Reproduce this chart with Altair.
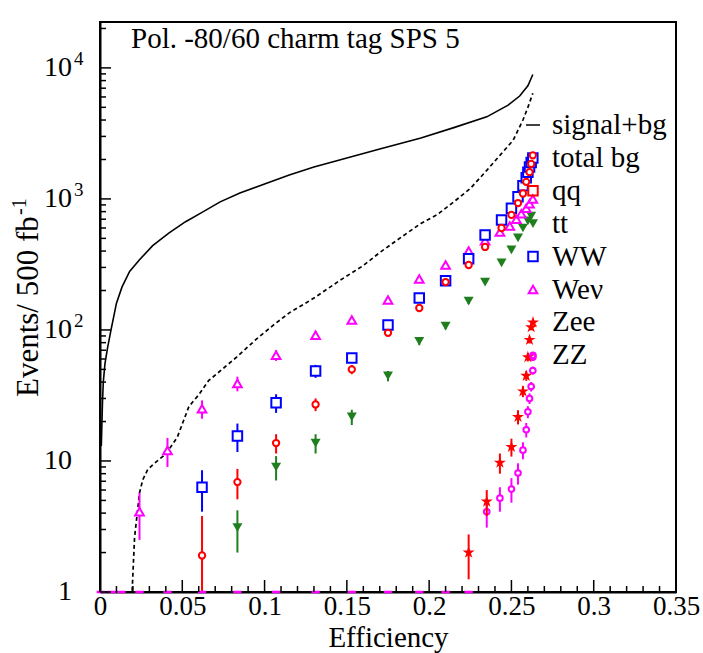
import altair as alt
import pandas as pd

FONT = "Liberation Serif"
RED, BLUE, GREEN, MAG = "#ff0000", "#0000ff", "#1f7f1f", "#ff00ff"

# ---------------- data ----------------
# signal + background curve
sb_x = [0.0008, 0.0012, 0.0015, 0.002, 0.003, 0.0045, 0.0067, 0.010, 0.0134, 0.018,
        0.024, 0.032, 0.042, 0.052, 0.062, 0.073, 0.085, 0.100, 0.115, 0.130,
        0.150, 0.170, 0.195, 0.215, 0.235, 0.248, 0.255, 0.260, 0.263]
sb_y = [13, 20, 28, 40, 55, 72, 100, 160, 213, 280,
        343, 440, 550, 670, 790, 950, 1110, 1300, 1520, 1750,
        2050, 2400, 2920, 3500, 4230, 5200, 6100, 7300, 8900]

# total background curve
tb_x = [0.0185, 0.0195, 0.021, 0.024, 0.026, 0.029, 0.033, 0.040, 0.047, 0.054,
        0.060, 0.066, 0.075, 0.083, 0.095, 0.105, 0.115, 0.130, 0.146, 0.160,
        0.170, 0.183, 0.195, 0.205, 0.215, 0.225, 0.235, 0.243, 0.251, 0.257,
        0.260, 0.263]
tb_y = [0.8, 1.0, 2.6, 5.7, 7.2, 8.6, 9.6, 11.3, 15.2, 26,
        32, 41, 51, 62, 85, 108, 135, 175, 240, 310,
        390, 510, 650, 760, 950, 1200, 1650, 2150, 2800, 4000,
        5000, 6400]

# W e nu
wev_x = [0.024, 0.041, 0.062, 0.0835, 0.107, 0.131, 0.153, 0.175, 0.194, 0.210,
         0.224, 0.234, 0.243, 0.249, 0.253, 0.256, 0.259, 0.261, 0.263]
wev_y = [4.1, 12, 25, 39, 64, 91, 119, 169, 245, 313,
         400, 480, 560, 620, 700, 770, 850, 920, 1000]
wev_e = [1.6, 3, 4, 5, 6, 7, 8, 10, 12, 14, 16, 17, 19, 20, 21, 22, 23, 24, 25]

# qq
qq_x = [0.062, 0.0835, 0.107, 0.131, 0.153, 0.175, 0.194, 0.210, 0.224, 0.234,
        0.244, 0.250, 0.254, 0.257, 0.259, 0.261, 0.262, 0.263]
qq_y = [1.9, 6.9, 13.7, 27, 50, 95, 147, 232, 313, 430,
        600, 755, 930, 1100, 1350, 1600, 1850, 2150]
qq_e = [1.9, 1.8, 2.3, 3, 4, 6, 7, 9, 11, 13, 15, 17, 19, 21, 23, 25, 27, 29]

# WW
ww_x = [0.062, 0.0835, 0.107, 0.131, 0.153, 0.175, 0.194, 0.210, 0.224, 0.234,
        0.244, 0.250, 0.254, 0.257, 0.259, 0.260, 0.261, 0.262, 0.263]
ww_y = [6.3, 15.5, 27.8, 48.6, 61, 109, 175, 237, 350, 530,
        690, 850, 1040, 1260, 1450, 1600, 1750, 1900, 2050]
ww_e = [2.2, 3.8, 4.5, 5.5, 5, 7, 9, 10, 12, 15, 17, 19, 21, 23, 25, 26, 27, 28, 29]

# tt
tt_x = [0.0835, 0.107, 0.131, 0.153, 0.175, 0.194, 0.210, 0.224, 0.234, 0.244,
        0.250, 0.254, 0.257, 0.260, 0.262]
tt_y = [3.1, 9.0, 13.7, 21.7, 44.6, 82, 107, 166, 232, 325,
        408, 505, 600, 680, 740]
tt_e = [1.1, 1.9, 2.3, 2.9, 4, 5.5, 6, 8, 9, 11, 12, 14, 15, 16, 17]

# Zee
zee_x = [0.224, 0.235, 0.243, 0.250, 0.254, 0.257, 0.259, 0.260, 0.261, 0.262]
zee_y = [2.0, 4.9, 9.7, 12.8, 21.7, 34, 44.7, 62, 84, 105]
zee_e = [0.75, 1.1, 1.7, 2, 2.7, 3.3, 3.8, 4.5, 5.2, 5.8]

# ZZ
zz_x = [0.235, 0.243, 0.250, 0.254, 0.257, 0.259, 0.260, 0.261, 0.262, 0.263, 0.263]
zz_y = [4.1, 5.2, 6.1, 8.1, 12.1, 17.3, 23.7, 30, 37, 49, 62]
zz_e = [1.0, 1.1, 1.3, 1.5, 1.8, 2.2, 2.5, 2.8, 3.1, 3.5, 4]
# ZZ bins with zero entries (drawn on the axis)
zz0_x = [0.0005, 0.007, 0.013, 0.024, 0.041, 0.062, 0.0835, 0.107, 0.131, 0.153,
         0.175, 0.194, 0.210, 0.224]

x_major = [0, 0.05, 0.1, 0.15, 0.2, 0.25, 0.3, 0.35]
x_minor = [0.01, 0.02, 0.03, 0.04, 0.06, 0.07, 0.08, 0.09, 0.11, 0.12, 0.13, 0.14,
           0.16, 0.17, 0.18, 0.19, 0.21, 0.22, 0.23, 0.24, 0.26, 0.27, 0.28, 0.29,
           0.31, 0.32, 0.33, 0.34]
y_major = [1, 10, 100, 1000, 10000]
y_lab_base = ["1", "10", "10", "10", "10"]
y_lab_exp = ["", "", "2", "3", "4"]

legend_labels = ["signal+bg", "total bg", "qq", "tt", "WW", "We\u03bd", "Zee", "ZZ"]
title_text = "Pol. -80/60 charm tag SPS 5"

# ---------------- chart ----------------
W, H = 576, 570
Y_MAX = 22400
xscale = alt.Scale(domain=[0, 0.35], nice=False, zero=False)
yscale = alt.Scale(type="log", domain=[1, Y_MAX], nice=False)
xaxis = alt.Axis(values=x_major, format="~g", labelFont=FONT, labelFontSize=27,
                 labelColor="black", labelFlush=False, labelOverlap=False,
                 labelPadding=1, ticks=False, domainColor="black", domainWidth=2,
                 grid=False, title="Efficiency", titleFont=FONT, titleFontSize=29,
                 titleFontWeight="normal", titleColor="black",
                 titleBaseline="alphabetic", titleY=54)
yaxis = alt.Axis(labels=False, ticks=False, title=None, domainColor="black",
                 domainWidth=2, grid=False)


def X(f):
    return alt.X(f, type="quantitative", scale=xscale, axis=xaxis)


def Y(f):
    return alt.Y(f, type="quantitative", scale=yscale, axis=yaxis)


layers = []

sb = pd.DataFrame({"x": sb_x, "y": sb_y})
tb = pd.DataFrame({"x": tb_x, "y": tb_y})
layers.append(alt.Chart(sb).mark_line(color="black", strokeWidth=1.6, clip=True)
              .encode(x=X("x"), y=Y("y")))
layers.append(alt.Chart(tb).mark_line(color="black", strokeWidth=1.7,
                                      strokeDash=[4, 3], clip=True)
              .encode(x=X("x"), y=Y("y")))

STAR = ("M0,-1L0.2245,-0.309L0.951,-0.309L0.363,0.118L0.588,0.809L0,0.382"
        "L-0.588,0.809L-0.363,0.118L-0.951,-0.309L-0.2245,-0.309Z")

series = [
    # name, x, y, err, color, shape, filled, size
    ("tt", tt_x, tt_y, tt_e, GREEN, "triangle-down", True, 100),
    ("Wev", wev_x, wev_y, wev_e, MAG, "triangle-up", False, 75),
    ("WW", ww_x, ww_y, ww_e, BLUE, "square", False, 90),
    ("qq", qq_x, qq_y, qq_e, RED, "circle", False, 40),
    ("ZZ", zz_x, zz_y, zz_e, MAG, "circle", False, 32),
    ("Zee", zee_x, zee_y, zee_e, RED, STAR, True, 160),
]

for name, xs, ys, es, col, shape, filled, size in series:
    df = pd.DataFrame({"x": xs, "y": ys, "e": es})
    df["lo"] = (df["y"] - df["e"]).clip(lower=0.5)
    df["hi"] = df["y"] + df["e"]
    layers.append(alt.Chart(df).mark_rule(color=col, strokeWidth=2, clip=True)
                  .encode(x=X("x"), y=Y("lo"), y2="hi"))
    if filled:
        pm = alt.Chart(df).mark_point(shape=shape, filled=True, color=col,
                                      size=size, opacity=1, clip=True)
    else:
        pm = alt.Chart(df).mark_point(shape=shape, filled=False, color=col,
                                      fill="white", fillOpacity=1,
                                      size=size, strokeWidth=2, opacity=1, clip=True)
    layers.append(pm.encode(x=X("x"), y=Y("y")))

zz0 = pd.DataFrame({"x": zz0_x, "y": [1] * len(zz0_x)})
layers.append(alt.Chart(zz0).mark_point(shape="M-1,0L1,0", filled=False, color=MAG,
                                        strokeWidth=2.5, size=70, opacity=1)
              .encode(x=X("x"), y=Y("y")))

# inward ticks
layers.append(alt.Chart(pd.DataFrame({"x": x_major})).mark_rule(color="black", strokeWidth=1.5)
              .encode(x=X("x"), y=alt.value(H), y2=alt.value(H - 12)))
layers.append(alt.Chart(pd.DataFrame({"x": x_minor})).mark_rule(color="black", strokeWidth=1.5)
              .encode(x=X("x"), y=alt.value(H), y2=alt.value(H - 6)))
y_minor = [k * d for d in y_major for k in range(2, 10) if k * d < Y_MAX]
layers.append(alt.Chart(pd.DataFrame({"y": y_major})).mark_rule(color="black", strokeWidth=1.5)
              .encode(y=Y("y"), x=alt.value(0), x2=alt.value(11)))
layers.append(alt.Chart(pd.DataFrame({"y": y_minor})).mark_rule(color="black", strokeWidth=1.5)
              .encode(y=Y("y"), x=alt.value(0), x2=alt.value(6)))

# y tick labels (10 with superscript exponent)
ylab = pd.DataFrame({"y": y_major, "b": y_lab_base, "p": y_lab_exp})
layers.append(alt.Chart(ylab).mark_text(font=FONT, fontSize=28, align="right",
                                        baseline="middle", color="black")
              .encode(y=Y("y"), x=alt.value(-28), text="b:N"))
layers.append(alt.Chart(ylab).mark_text(font=FONT, fontSize=19, align="left",
                                        baseline="middle", dy=-9, color="black")
              .encode(y=Y("y"), x=alt.value(-26), text="p:N"))

# y axis title with superscript
layers.append(alt.Chart(pd.DataFrame({"t": ["Events/ 500 fb"]}))
              .mark_text(font=FONT, fontSize=31, angle=270, align="left",
                         baseline="alphabetic", color="black")
              .encode(text="t:N", x=alt.value(-62), y=alt.value(375)))
layers.append(alt.Chart(pd.DataFrame({"t": ["-1"]}))
              .mark_text(font=FONT, fontSize=20, angle=270, align="left",
                         baseline="alphabetic", color="black")
              .encode(text="t:N", x=alt.value(-74), y=alt.value(193)))

# title inside frame
layers.append(alt.Chart(pd.DataFrame({"t": [title_text]}))
              .mark_text(font=FONT, fontSize=29, align="left", baseline="alphabetic",
                         color="black")
              .encode(text="t:N", x=alt.value(31), y=alt.value(26)))

# legend
LX_M, LX_T, LY0, LDY = 433, 452, 103, 32.9
for i, lab in enumerate(legend_labels):
    layers.append(alt.Chart(pd.DataFrame({"t": [lab]}))
                  .mark_text(font=FONT, fontSize=29, align="left", baseline="middle",
                             color="black")
                  .encode(text="t:N", x=alt.value(LX_T), y=alt.value(LY0 + i * LDY)))

leg_df = pd.DataFrame({"t": [0]})
layers.append(alt.Chart(leg_df).mark_rule(color="black", strokeWidth=1.5)
              .encode(x=alt.value(LX_M - 7), x2=alt.value(LX_M + 7), y=alt.value(LY0)))
leg_markers = [
    (2, "square", False, RED, 90),
    (3, "triangle-down", True, GREEN, 100),
    (4, "square", False, BLUE, 90),
    (5, "triangle-up", False, MAG, 75),
    (6, STAR, True, RED, 160),
    (7, "circle", False, MAG, 32),
]
for row, shape, filled, col, size in leg_markers:
    if filled:
        m = alt.Chart(leg_df).mark_point(shape=shape, filled=True, color=col,
                                         size=size, opacity=1)
    else:
        m = alt.Chart(leg_df).mark_point(shape=shape, filled=False, color=col,
                                         size=size, strokeWidth=2, opacity=1)
    layers.append(m.encode(x=alt.value(LX_M), y=alt.value(LY0 + row * LDY)))

chart = alt.layer(*layers).properties(
    width=W, height=H,
    autosize=alt.AutoSizeParams(type="none"),
    padding={"left": 100, "top": 22, "right": 27, "bottom": 61},
    background="white",
).configure_view(stroke="black", strokeWidth=2)

chart.save("out.html", embed_options={"renderer": "svg", "actions": False})
